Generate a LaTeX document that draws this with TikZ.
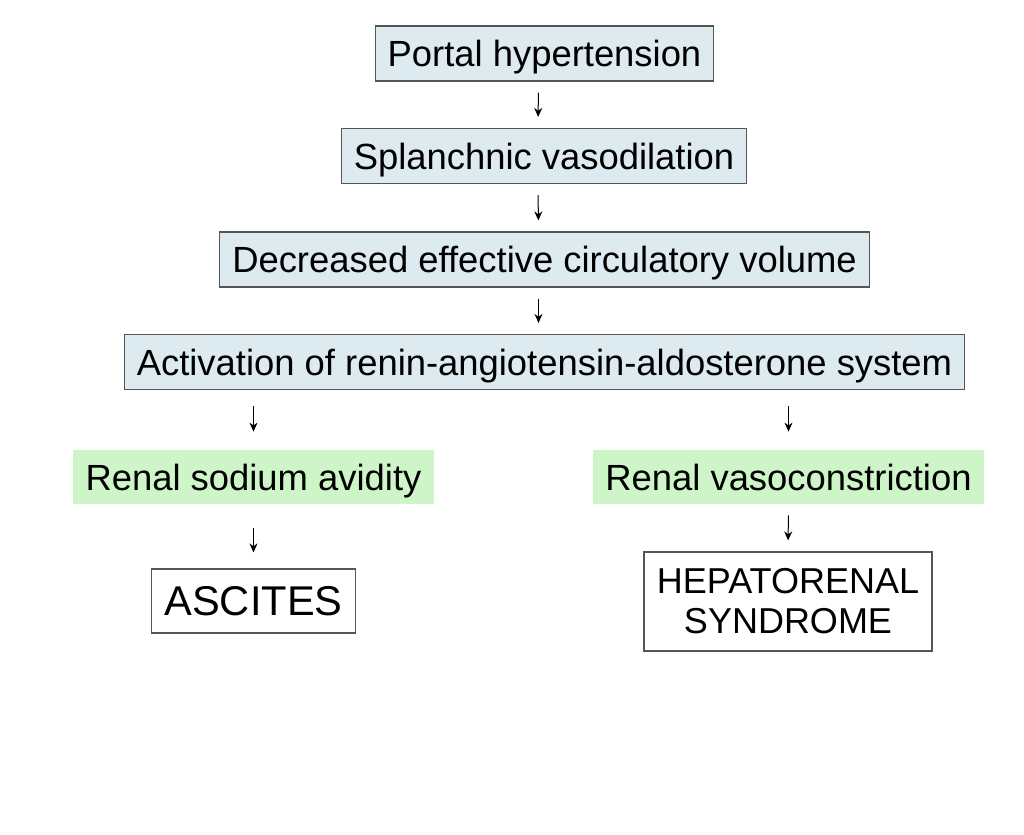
\documentclass[tikz,border=0pt]{standalone}
\usepackage{fontspec}
\setmainfont{Liberation Sans}
\usetikzlibrary{arrows.meta}
\definecolor{boxblue}{RGB}{221,235,240}
\definecolor{boxgreen}{RGB}{206,245,200}
\definecolor{boxline}{RGB}{85,85,85}
\tikzset{
  cause/.style={draw=boxline, fill=boxblue, line width=0.6pt, inner xsep=6.25pt,
    minimum height=27.5pt, text height=13pt, text depth=0pt,
    font=\fontsize{18.2}{21}\selectfont},
  renal/.style={fill=boxgreen, inner xsep=6.25pt, minimum height=27pt,
    text height=13pt, text depth=0pt, font=\fontsize{18.2}{21}\selectfont},
  outcome/.style={draw=boxline, fill=white, line width=0.6pt, inner xsep=6.5pt,
    align=center},
  step arrow/.style={->, line width=0.5pt}
}
\begin{document}
\begin{tikzpicture}[>={Stealth[length=4.5pt,width=4pt]}, x=0.5pt, y=-0.5pt]
    \useasboundingbox (0,0) rectangle (1024,835);
    % chain of causes
    \node[cause] (portal) at (544.5,53.5) {Portal hypertension};
    \node[cause] (splanch) at (544,156) {Splanchnic vasodilation};
    \node[cause] (volume) at (544.5,259.5) {Decreased effective circulatory volume};
    \node[cause] (raas) at (544.5,362) {Activation of renin-angiotensin-aldosterone system};
    % renal effects
    \node[renal] (sodium) at (253.5,477) {Renal sodium avidity};
    \node[renal] (vaso) at (788.5,477) {Renal vasoconstriction};
    % outcomes
    \node[outcome, minimum height=32pt, font=\fontsize{20.8}{24}\selectfont] (ascites) at (253.5,601) {ASCITES};
    \node[outcome, minimum height=49.5pt, font=\fontsize{18}{20}\selectfont] (hrs) at (788,601.5) {HEPATORENAL\\SYNDROME};
    \draw[step arrow, shorten <=5.5pt, shorten >=5.5pt] ([xshift=-3pt]portal.south) -- ([xshift=-3pt]splanch.north);
    \draw[step arrow, shorten <=5.5pt, shorten >=5.5pt] ([xshift=-3pt]splanch.south) -- ([xshift=-3pt]volume.north);
    \draw[step arrow, shorten <=5.5pt, shorten >=5.5pt] ([xshift=-3pt]volume.south) -- ([xshift=-3pt]raas.north);
    \draw[step arrow, shorten <=8pt, shorten >=9pt] (raas.south -| sodium.north) -- (sodium.north);
    \draw[step arrow, shorten <=8pt, shorten >=9pt] (raas.south -| vaso.north) -- (vaso.north);
    \draw[step arrow, shorten <=12pt, shorten >=8pt] (sodium.south) -- (ascites.north);
    \draw[step arrow, shorten <=5.5pt, shorten >=5.5pt] (vaso.south) -- (hrs.north);
\end{tikzpicture}
\end{document}
